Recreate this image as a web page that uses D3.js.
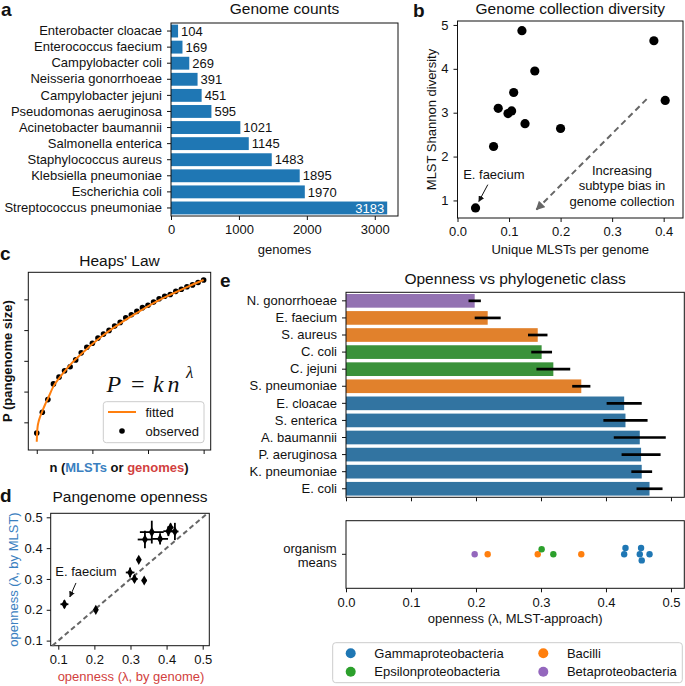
<!DOCTYPE html>
<html><head><meta charset="utf-8">
<script src="https://cdn.jsdelivr.net/npm/d3@7"></script>
<style>
body{margin:0;background:#fff}
svg text{font-family:"Liberation Sans",Arial,Helvetica,sans-serif;fill:#111}
</style>
</head><body>
<svg id="fig" width="685" height="686"></svg>
<script>
// ---------------- DATA ----------------
// panel a
const speciesFull = ["Enterobacter cloacae","Enterococcus faecium","Campylobacter coli","Neisseria gonorrhoeae","Campylobacter jejuni","Pseudomonas aeruginosa","Acinetobacter baumannii","Salmonella enterica","Staphylococcus aureus","Klebsiella pneumoniae","Escherichia coli","Streptococcus pneumoniae"];
const genomeCounts = [104,169,269,391,451,595,1021,1145,1483,1895,1970,3183];
const ticksA = [0,1000,2000,3000];
// panel b
const mlstPerGenome = [0.125,0.381,0.150,0.109,0.079,0.098,0.105,0.403,0.131,0.200,0.070,0.035];
const shannonDiv    = [4.87,4.64,3.95,3.46,3.10,2.98,3.04,3.28,2.75,2.64,2.23,0.83];
const ticksBx = [0.0,0.1,0.2,0.3,0.4];
const ticksBy = [1,2,3,4,5];
// panel c
const heapsN = [0,1,2,3,4,5,6,7,8,9,10,11,12,13,14,15,16,17,18,19,20,21,22,23,24,25,26,27,28,29,30];
const heapsObserved = [0.65,1.33,1.74,2.25,2.47,2.68,2.81,3.03,3.26,3.44,3.57,3.74,3.87,3.99,4.13,4.25,4.40,4.50,4.61,4.73,4.81,4.91,5.02,5.10,5.16,5.26,5.33,5.41,5.47,5.55,5.63];
const fittedN = [0,0.05,0.15,0.3,0.6,1,1.5,2,3,4,5,6,8,10,12,15,18,21,24,27,30];
const fittedP = [0.37,0.62,0.85,1.0,1.18,1.36,1.58,1.77,2.17,2.43,2.66,2.87,3.22,3.55,3.84,4.22,4.56,4.88,5.15,5.40,5.63];
const ticksCx = [0,10,20,30];
const ticksCy = [1,2,3,4,5];
// panel d (order as panel e)
const opennessByGenome = [0.204,0.117,0.338,0.311,0.299,0.323,0.340,0.382,0.359,0.423,0.405,0.411];
const opennessByGenomeErr = [0.005,0.011,0.007,0.009,0.012,0.005,0.020,0.022,0.033,0.010,0.014,0.008];
const opennessByMLSTd = [0.200,0.218,0.295,0.300,0.321,0.362,0.428,0.430,0.452,0.454,0.455,0.467];
const opennessByMLSTdErr = [0.005,0.013,0.006,0.010,0.016,0.007,0.028,0.018,0.037,0.028,0.016,0.013];
const ticksD = [0.1,0.2,0.3,0.4,0.5];
// panel e
const speciesShort = ["N. gonorrhoeae","E. faecium","S. aureus","C. coli","C. jejuni","S. pneumoniae","E. cloacae","S. enterica","A. baumannii","P. aeruginosa","K. pneumoniae","E. coli"];
const opennessMLST = [0.198,0.218,0.295,0.301,0.319,0.362,0.428,0.430,0.452,0.454,0.455,0.467];
const opennessMLSTErr = [0.0095,0.020,0.015,0.016,0.026,0.014,0.027,0.034,0.040,0.030,0.016,0.020];
const phyloClass = ["Betaproteobacteria","Bacilli","Bacilli","Epsilonproteobacteria","Epsilonproteobacteria","Bacilli","Gammaproteobacteria","Gammaproteobacteria","Gammaproteobacteria","Gammaproteobacteria","Gammaproteobacteria","Gammaproteobacteria"];
const classNames = ["Gammaproteobacteria","Bacilli","Epsilonproteobacteria","Betaproteobacteria"];
const classBarColors = ["#3274a1","#e1812c","#3a923a","#9372b2"];
const classDotColors = ["#1f77b4","#ff7f0e","#2ca02c","#9467bd"];
const ticksE = [0.0,0.1,0.2,0.3,0.4,0.5];

// ---------------- HELPERS ----------------
const svg = d3.select("#fig");
const INK = "#111";
function frame(x0,y0,x1,y1){
  svg.append("rect").attr("x",x0).attr("y",y0).attr("width",x1-x0).attr("height",y1-y0)
    .attr("fill","none").attr("stroke",INK).attr("stroke-width",1);
}
function styleAxis(g, fs){
  g.select(".domain").remove();
  g.selectAll(".tick line").attr("stroke",INK);
  g.selectAll(".tick text").attr("font-size",fs||13).attr("fill",INK)
   .attr("font-family",'"Liberation Sans",Arial,sans-serif');
  return g;
}
function txt(x,y,s,opt){
  opt=opt||{};
  const t = svg.append("text").attr("x",x).attr("y",y).text(s)
    .attr("font-size",opt.fs||13).attr("text-anchor",opt.anchor||"middle");
  if(opt.weight) t.attr("font-weight",opt.weight);
  if(opt.fill) t.style("fill",opt.fill);
  return t;
}
function vtxt(cx,cy,s,opt){
  opt=opt||{};
  const t = svg.append("text").attr("transform",`translate(${cx},${cy}) rotate(-90)`)
    .attr("dy","0.35em").attr("text-anchor","middle").attr("font-size",opt.fs||13).text(s);
  if(opt.weight) t.attr("font-weight",opt.weight);
  if(opt.fill) t.style("fill",opt.fill);
  return t;
}
const defs = svg.append("defs");
defs.append("marker").attr("id","arrGray").attr("viewBox","0 0 10 10").attr("refX",9).attr("refY",5)
  .attr("markerWidth",4.5).attr("markerHeight",4.5).attr("markerUnits","strokeWidth").attr("orient","auto")
  .append("path").attr("d","M0,0L10,5L0,10z").attr("fill","#666");
defs.append("marker").attr("id","arrBlk").attr("viewBox","0 0 10 10").attr("refX",9).attr("refY",5)
  .attr("markerWidth",6).attr("markerHeight",6).attr("markerUnits","strokeWidth").attr("orient","auto")
  .append("path").attr("d","M0,0L10,5L0,10z").attr("fill",INK);

function panelLabel(x,y,s){ txt(x,y,s,{fs:19,weight:"bold",anchor:"start"}); }

// ---------------- PANEL A ----------------
{
  const L=171,R=398,T=23,B=216;
  const x = d3.scaleLinear().domain([0,3342]).range([L,R]);
  const y = d3.scaleBand().domain(speciesFull).range([T,B]).paddingInner(0.2).paddingOuter(0.1);
  svg.append("g").selectAll("rect").data(genomeCounts).join("rect")
    .attr("x",x(0)).attr("y",(d,i)=>y(speciesFull[i])).attr("width",d=>x(d)-x(0))
    .attr("height",y.bandwidth()).attr("fill","#1f77b4");
  const maxV = d3.max(genomeCounts);
  svg.append("g").selectAll("text").data(genomeCounts).join("text")
    .attr("x",d=> d===maxV ? x(d)-3 : x(d)+3)
    .attr("y",(d,i)=>y(speciesFull[i])+y.bandwidth()/2).attr("dy","0.36em")
    .attr("text-anchor",d=> d===maxV ? "end":"start").attr("font-size",13)
    .style("fill",d=> d===maxV ? "#fff" : INK).text(d=>d);
  frame(L,T,R,B);
  styleAxis(svg.append("g").attr("transform",`translate(0,${B})`)
    .call(d3.axisBottom(x).tickValues(ticksA).tickSize(4).tickPadding(5).tickFormat(d3.format("d"))));
  styleAxis(svg.append("g").attr("transform",`translate(${L},0)`)
    .call(d3.axisLeft(y).tickSize(4).tickPadding(5)));
  txt((L+R)/2,14,"Genome counts",{fs:15.5});
  txt((L+R)/2,253.5,"genomes");
  panelLabel(1,15.5,"a");
}

// ---------------- PANEL B ----------------
{
  const L=457.5,R=683,T=21,B=218;
  const x = d3.scaleLinear().domain([0,0.4375]).range([L,R]);
  const y = d3.scaleLinear().domain([0.6,5.09]).range([B,T]);
  frame(L,T,R,B);
  svg.append("g").selectAll("circle").data(mlstPerGenome).join("circle")
    .attr("cx",d=>x(d)).attr("cy",(d,i)=>y(shannonDiv[i])).attr("r",4.6).attr("fill","#000");
  styleAxis(svg.append("g").attr("transform",`translate(0,${B})`)
    .call(d3.axisBottom(x).tickValues(ticksBx).tickSize(4).tickPadding(5).tickFormat(d3.format(".1f"))));
  styleAxis(svg.append("g").attr("transform",`translate(${L},0)`)
    .call(d3.axisLeft(y).tickValues(ticksBy).tickSize(4).tickPadding(5).tickFormat(d3.format("d"))));
  // dashed arrow
  svg.append("line").attr("x1",x(0.367)).attr("y1",y(3.31)).attr("x2",x(0.153)).attr("y2",y(0.79))
    .attr("stroke","#666").attr("stroke-width",2).attr("stroke-dasharray","6,4").attr("marker-end","url(#arrGray)");
  const lines = ["Increasing","subtype bias in","genome collection"];
  lines.forEach((s,i)=>txt(622,174.5+i*15.8,s));
  txt(x(0.0705),y(1.586)+4.5,"E. faecium");
  svg.append("line").attr("x1",x(0.0588)).attr("y1",y(1.36)).attr("x2",x(0.0414)).attr("y2",y(0.977))
    .attr("stroke",INK).attr("stroke-width",1).attr("marker-end","url(#arrBlk)");
  txt((L+R)/2,14,"Genome collection diversity",{fs:15.5});
  txt((L+R)/2,253.5,"Unique MLSTs per genome");
  vtxt(431,(T+B)/2,"MLST Shannon diversity");
  panelLabel(413,17,"b");
}

// ---------------- PANEL C ----------------
{
  const L=28.3,R=210.7,T=272.3,B=450;
  const x = d3.scaleLinear().domain([-1.52,31.27]).range([L,R]);
  const y = d3.scaleLinear().domain([0.1,5.88]).range([B,T]);
  frame(L,T,R,B);
  svg.append("g").selectAll("circle").data(heapsObserved).join("circle")
    .attr("cx",(d,i)=>x(heapsN[i])).attr("cy",d=>y(d)).attr("r",2.8).attr("fill","#000");
  const line = d3.line().x((d,i)=>x(fittedN[i])).y(d=>y(d)).curve(d3.curveMonotoneX);
  svg.append("path").attr("d",line(fittedP)).attr("fill","none").attr("stroke","#ff7f0e").attr("stroke-width",2);
  styleAxis(svg.append("g").attr("transform",`translate(0,${B})`)
    .call(d3.axisBottom(x).tickValues(ticksCx).tickSize(4).tickFormat("")));
  styleAxis(svg.append("g").attr("transform",`translate(${L},0)`)
    .call(d3.axisLeft(y).tickValues(ticksCy).tickSize(4).tickFormat("")));
  // equation
  const eq = svg.append("g");
  const eqs = [["P",106.5,391.5,24,"italic"],["=",131,391.5,24,"normal"],["k",153,391.5,24,"italic"],["n",167.5,391.5,24,"italic"],["λ",186,378,17,"italic"]];
  eqs.forEach(e=>eq.append("text").attr("x",e[1]).attr("y",e[2]).attr("font-size",e[3])
    .attr("font-style",e[4]).attr("text-anchor","start")
    .style("font-family",'"Liberation Serif","DejaVu Serif",serif').text(e[0]));
  // legend
  svg.append("rect").attr("x",103.3).attr("y",401.7).attr("width",100.7).attr("height",41).attr("rx",3)
    .attr("fill","#fff").attr("fill-opacity",0.85).attr("stroke","#ccc");
  svg.append("line").attr("x1",108).attr("x2",136).attr("y1",412).attr("y2",412).attr("stroke","#ff7f0e").attr("stroke-width",2);
  svg.append("circle").attr("cx",122).attr("cy",431).attr("r",2.8).attr("fill","#000");
  txt(145.5,412,"fitted",{anchor:"start"}).attr("dy","0.35em");
  txt(145.5,431,"observed",{anchor:"start"}).attr("dy","0.35em");
  txt((L+R)/2,265.5,"Heaps' Law",{fs:15.5});
  const xl = txt(119,472,"",{weight:"bold"});
  xl.append("tspan").text("n (");
  xl.append("tspan").text("MLSTs").style("fill","#3a80c0");
  xl.append("tspan").text(" or ");
  xl.append("tspan").text("genomes").style("fill","#d23f40");
  xl.append("tspan").text(")");
  vtxt(7.5,(T+B)/2,"P (pangenome size)",{weight:"bold"});
  panelLabel(0,260,"c");
}

// ---------------- PANEL D ----------------
{
  const L=50.7,R=209.3,T=513.3,B=645.7;
  const x = d3.scaleLinear().domain([0.079,0.5183]).range([L,R]);
  const y = d3.scaleLinear().domain([0.0835,0.513]).range([B,T]);
  frame(L,T,R,B);
  const lo = Math.max(x.domain()[0],y.domain()[0]), hi = Math.min(x.domain()[1],y.domain()[1]);
  svg.append("line").attr("x1",x(lo)).attr("y1",y(lo)).attr("x2",x(hi)).attr("y2",y(hi))
    .attr("stroke","#666").attr("stroke-width",2).attr("stroke-dasharray","5,3.2");
  const g = svg.append("g");
  opennessByGenome.forEach((gx,i)=>{
    const my = opennessByMLSTd[i];
    g.append("line").attr("x1",x(gx-opennessByGenomeErr[i])).attr("x2",x(gx+opennessByGenomeErr[i]))
      .attr("y1",y(my)).attr("y2",y(my)).attr("stroke","#000").attr("stroke-width",1.8);
    g.append("line").attr("x1",x(gx)).attr("x2",x(gx))
      .attr("y1",y(my-opennessByMLSTdErr[i])).attr("y2",y(my+opennessByMLSTdErr[i])).attr("stroke","#000").attr("stroke-width",1.8);
    g.append("path").attr("d",d3.symbol(d3.symbolDiamond,30)()).attr("transform",`translate(${x(gx)},${y(my)})`).attr("fill","#000");
  });
  styleAxis(svg.append("g").attr("transform",`translate(0,${B})`)
    .call(d3.axisBottom(x).tickValues(ticksD).tickSize(4).tickPadding(5).tickFormat(d3.format(".1f"))));
  styleAxis(svg.append("g").attr("transform",`translate(${L},0)`)
    .call(d3.axisLeft(y).tickValues(ticksD).tickSize(4).tickPadding(4).tickFormat(d3.format(".1f"))));
  txt(x(0.1767),y(0.323)+4.5,"E. faecium");
  svg.append("line").attr("x1",x(0.149)).attr("y1",y(0.287)).attr("x2",x(0.132)).attr("y2",y(0.242))
    .attr("stroke",INK).attr("stroke-width",1).attr("marker-end","url(#arrBlk)");
  txt((L+R)/2,501.5,"Pangenome openness",{fs:15.5});
  txt(131,681,"openness (λ, by genome)",{fill:"#d23f40"});
  vtxt(13,(T+B)/2,"openness (λ, by MLST)",{fill:"#3a80c0"});
  panelLabel(0,502,"d");
}

// ---------------- PANEL E ----------------
{
  const L=346,R=684.3,T=292.3,B=497.3;
  const x = d3.scaleLinear().domain([0,0.5205]).range([L,R]);
  const y = d3.scaleBand().domain(speciesShort).range([T,B]).paddingInner(0.2).paddingOuter(0.1);
  const colOf = c => classBarColors[classNames.indexOf(c)];
  const dotOf = c => classDotColors[classNames.indexOf(c)];
  svg.append("g").selectAll("rect").data(opennessMLST).join("rect")
    .attr("x",x(0)).attr("y",(d,i)=>y(speciesShort[i])).attr("width",d=>x(d)-x(0))
    .attr("height",y.bandwidth()).attr("fill",(d,i)=>colOf(phyloClass[i]));
  svg.append("g").selectAll("line").data(opennessMLST).join("line")
    .attr("x1",(d,i)=>x(d-opennessMLSTErr[i])).attr("x2",(d,i)=>x(d+opennessMLSTErr[i]))
    .attr("y1",(d,i)=>y(speciesShort[i])+y.bandwidth()/2).attr("y2",(d,i)=>y(speciesShort[i])+y.bandwidth()/2)
    .attr("stroke","#000").attr("stroke-width",2.7);
  frame(L,T,R,B);
  styleAxis(svg.append("g").attr("transform",`translate(0,${B})`)
    .call(d3.axisBottom(x).tickValues(ticksE).tickSize(4).tickFormat("")));
  styleAxis(svg.append("g").attr("transform",`translate(${L},0)`)
    .call(d3.axisLeft(y).tickSize(4).tickPadding(5)));
  txt((L+R)/2,283.5,"Openness vs phylogenetic class",{fs:15.5});
  panelLabel(220,287,"e");

  // swarm strip
  const T2=520.7,B2=588.3,cy=554.3,r=3.2;
  frame(L,T2,R,B2);
  const order = d3.range(opennessMLST.length).sort((a,b)=>opennessMLST[a]-opennessMLST[b]);
  const placed=[];
  order.forEach(i=>{
    const px=x(opennessMLST[i]);
    const cands=[0];
    placed.forEach(p=>{
      const dx=Math.abs(p.x-px);
      if(dx<2*r){const dy=Math.sqrt(4*r*r-dx*dx)+0.01; cands.push(p.o-dy,p.o+dy);}
    });
    cands.sort((a,b)=>Math.abs(a)-Math.abs(b) || a-b);
    const ok = cands.find(o=>placed.every(p=>Math.hypot(p.x-px,p.o-o)>=2*r-0.001));
    placed.push({x:px,o:ok,i:i});
  });
  svg.append("g").selectAll("circle").data(placed).join("circle")
    .attr("cx",d=>d.x).attr("cy",d=>cy+d.o).attr("r",r).attr("fill",d=>dotOf(phyloClass[d.i]));
  styleAxis(svg.append("g").attr("transform",`translate(0,${B2})`)
    .call(d3.axisBottom(x).tickValues(ticksE).tickSize(4).tickPadding(5).tickFormat(d3.format(".1f"))));
  svg.append("line").attr("x1",L-4).attr("x2",L).attr("y1",cy).attr("y2",cy).attr("stroke",INK);
  txt(336.7,548.3,"organism",{anchor:"end"}).attr("dy","0.35em");
  txt(336.7,562.3,"means",{anchor:"end"}).attr("dy","0.35em");
  txt((L+R)/2,622.5,"openness (λ, MLST-approach)");

  // legend
  svg.append("rect").attr("x",332.7).attr("y",642.7).attr("width",349.6).attr("height",40).attr("rx",3)
    .attr("fill","#fff").attr("stroke","#ccc");
  const legPos = [[350.7,653.3],[543.3,653.3],[350.7,671.7],[543.3,671.7]];
  classNames.forEach((c,k)=>{
    const p=legPos[k];
    svg.append("circle").attr("cx",p[0]).attr("cy",p[1]).attr("r",5).attr("fill",classDotColors[k]);
    txt(p[0]+23.6,p[1],c,{anchor:"start"}).attr("dy","0.35em");
  });
}
</script>
</body></html>
